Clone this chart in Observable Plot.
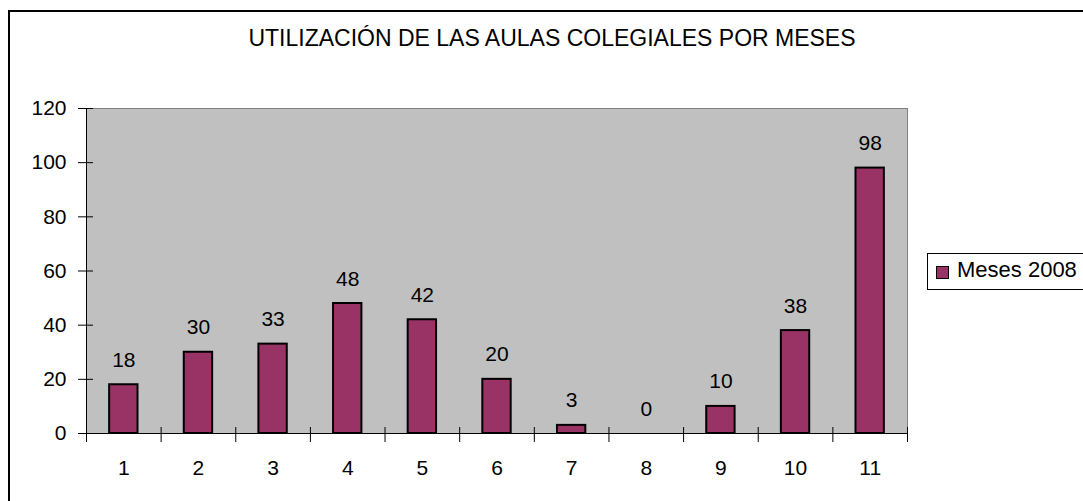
<!DOCTYPE html>
<html>
<head>
<meta charset="utf-8">
<script src="https://cdn.jsdelivr.net/npm/d3@7"></script>
<script src="https://cdn.jsdelivr.net/npm/@observablehq/plot@0.6"></script>
<style>
html, body { margin: 0; padding: 0; width: 1083px; height: 501px; overflow: hidden; background: #fff; font-family: "Liberation Sans", Arial, sans-serif; }
#wrap { position: relative; width: 1083px; height: 501px; overflow: hidden; }
#wrap svg { position: absolute; left: 0; top: 0; }
#border { position: absolute; left: 8px; top: 10px; width: 1200px; height: 600px; border: 2px solid #000; box-sizing: border-box; pointer-events: none; }
#title { position: absolute; left: 0; width: 1104px; top: 27px; text-align: center; font-size: 23px; line-height: 23px; color: #000; white-space: nowrap; }
#legend { position: absolute; left: 927px; top: 253px; width: 200px; height: 37px; border: 1px solid #000; box-sizing: border-box; background: #fff; }
#legend .sw { position: absolute; left: 8px; top: 12px; width: 13px; height: 13px; border: 1px solid #000; box-sizing: border-box; }
#legend .lb { position: absolute; left: 29px; top: 5px; font-size: 22px; line-height: 22px; color: #000; white-space: nowrap; }
</style>
</head>
<body>
<div id="wrap"></div>
<script>
const titleText = "UTILIZACIÓN DE LAS AULAS COLEGIALES POR MESES";
const seriesName = "Meses 2008";
const months = [1, 2, 3, 4, 5, 6, 7, 8, 9, 10, 11];
const values = [18, 30, 33, 48, 42, 20, 3, 0, 10, 38, 98];
const yTicks = [0, 20, 40, 60, 80, 100, 120];
const barColor = "#993366";

const data = months.map((m, i) => ({mes: m, value: values[i]}));
const boundaries = months.map(m => m - 0.5).concat([months[months.length - 1] + 0.5]);

const chart = Plot.plot({
  width: 1083,
  height: 501,
  marginLeft: 86,
  marginRight: 176,
  marginTop: 108,
  marginBottom: 68,
  style: {background: "none", fontFamily: "'Liberation Sans', Arial, sans-serif", fontSize: "21px", color: "#000"},
  x: {type: "linear", domain: [0.5, 11.5]},
  y: {domain: [0, 120]},
  marks: [
    Plot.frame({fill: "#C0C0C0", stroke: "#808080"}),
    Plot.rectY(data, {x1: d => d.mes - 0.19, x2: d => d.mes + 0.19, y: "value", fill: barColor, stroke: "#000", strokeWidth: 2}),
    Plot.ruleX([0.5], {stroke: "#000"}),
    Plot.ruleY([0], {stroke: "#000"}),
    Plot.axisY({ticks: yTicks, tickSize: 8, tickPadding: 12, label: null, fontSize: 21}),
    Plot.axisY({ticks: yTicks, tickSize: -7, tickFormat: () => "", label: null}),
    Plot.axisX({ticks: boundaries, tickSize: 9, tickFormat: () => "", label: null}),
    Plot.axisX({ticks: boundaries, tickSize: -6, tickFormat: () => "", label: null}),
    Plot.axisX({ticks: months, tickSize: 0, tickPadding: 27, label: null, fontSize: 21, tickFormat: d => String(d)}),
    Plot.text(data, {x: "mes", y: "value", text: d => String(d.value), dy: -18, lineAnchor: "bottom", fontSize: 21, fill: "#000"})
  ]
});

const wrap = document.getElementById("wrap");
wrap.appendChild(chart);

const title = document.createElement("div");
title.id = "title";
title.textContent = titleText;
wrap.appendChild(title);

const legend = document.createElement("div");
legend.id = "legend";
const sw = document.createElement("div");
sw.className = "sw";
sw.style.background = barColor;
const lb = document.createElement("div");
lb.className = "lb";
lb.textContent = seriesName;
legend.appendChild(sw);
legend.appendChild(lb);
wrap.appendChild(legend);

const border = document.createElement("div");
border.id = "border";
wrap.appendChild(border);
</script>
</body>
</html>
